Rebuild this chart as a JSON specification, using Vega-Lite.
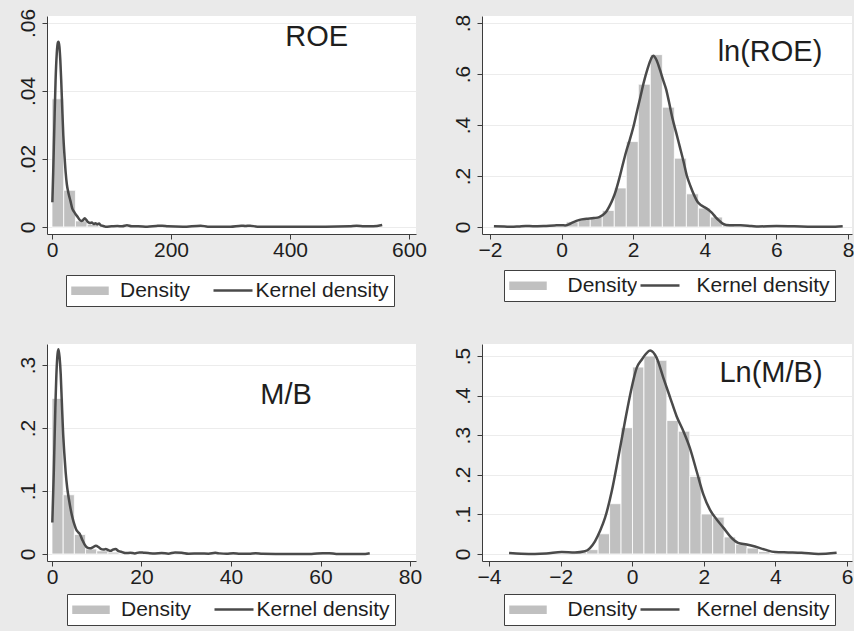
{
  "$schema": "https://vega.github.io/schema/vega-lite/v6.json",
  "background": "#eaeaea",
  "padding": {"left": 16, "top": 8, "right": 0, "bottom": 5},
  "config": {
    "view": {"fill": "white", "stroke": null},
    "font": "Liberation Sans",
    "axis": {"labelFont": "Liberation Sans", "labelFontSize": 21, "labelColor": "#1e1e1e", "domainColor": "#3c3c3c", "tickColor": "#3c3c3c", "tickSize": 5, "grid": false, "title": null, "labelFlush": false, "labelOverlap": false, "labelBound": false},
    "axisY": {"grid": true, "gridColor": "#ececec", "labelAngle": 270, "labelAlign": "center", "labelBaseline": "bottom", "labelPadding": 4},
    "axisX": {"labelPadding": 0},
    "legend": {"orient": "none", "direction": "horizontal", "title": null, "padding": 5, "labelFont": "Liberation Sans", "labelFontSize": 21, "labelColor": "#1e1e1e", "symbolSize": 324, "symbolOffset": 8.5, "labelOffset": 19.5, "columnPadding": 11.5}
  },
  "columns": 2,
  "spacing": {"row": 110, "column": 66},
  "bounds": "flush",
  "resolve": {"scale": {"fill": "independent", "stroke": "independent"}, "legend": {"fill": "independent", "stroke": "independent"}},
  "concat": [
    {
      "width": 369, "height": 218,
      "layer": [
        {"data": {"name": "roe_hist"}, "mark": {"type": "bar", "stroke": "white", "strokeWidth": 0.8},
         "encoding": {
           "x": {"field": "x0", "type": "quantitative", "scale": {"domain": [-8.4, 611.8], "nice": false, "zero": false}, "axis": {"values": [0, 200, 400, 600]}},
           "x2": {"field": "x1"},
           "y": {"field": "density", "type": "quantitative", "scale": {"domain": [-0.00206, 0.06206], "nice": false, "zero": false}, "axis": {"values": [0, 0.02, 0.04, 0.06], "labelExpr": "datum.value == 0 ? '0' : substring(format(datum.value, '~g'), 1)"}},
           "y2": {"datum": 0},
           "fill": {"datum": "Density", "type": "nominal", "scale": {"domain": ["Density", "Kernel density"], "range": ["#c0c0c0", "white"]},
             "legend": {"legendX": 19, "legendY": 259, "symbolType": "M-2.167,-0.556H2.167V0.556H-2.167Z", "fillColor": "white", "strokeColor": "#404040"}}
         }},
        {"data": {"name": "roe_kde"}, "mark": {"type": "line", "strokeWidth": 2.5, "interpolate": "monotone"},
         "encoding": {"x": {"field": "x", "type": "quantitative"}, "y": {"field": "density", "type": "quantitative"},
           "stroke": {"datum": "Kernel density", "type": "nominal", "scale": {"domain": ["Kernel density"], "range": ["#4a4a4a"]},
             "legend": {"legendX": 162, "legendY": 259, "symbolType": "M-2.167,0H2.167", "symbolStrokeWidth": 2.5, "labelExpr": "''"}}}},
        {"data": {"values": [{"label": "ROE"}]}, "mark": {"type": "text", "fontSize": 29, "align": "center", "baseline": "alphabetic", "color": "#1e1e1e"},
         "encoding": {"x": {"datum": 445, "type": "quantitative"}, "y": {"datum": 0.0532, "type": "quantitative"}, "text": {"field": "label"}}}
      ]
    },
    {
      "width": 370, "height": 218,
      "layer": [
        {"data": {"name": "lnroe_hist"}, "mark": {"type": "bar", "stroke": "white", "strokeWidth": 0.8},
         "encoding": {
           "x": {"field": "x0", "type": "quantitative", "scale": {"domain": [-2.223, 8.11], "nice": false, "zero": false}, "axis": {"values": [-2, 0, 2, 4, 6, 8]}},
           "x2": {"field": "x1"},
           "y": {"field": "density", "type": "quantitative", "scale": {"domain": [-0.0275, 0.8275], "nice": false, "zero": false}, "axis": {"values": [0, 0.2, 0.4, 0.6, 0.8], "labelExpr": "datum.value == 0 ? '0' : substring(format(datum.value, '~g'), 1)"}},
           "y2": {"datum": 0},
           "fill": {"datum": "Density", "type": "nominal", "scale": {"domain": ["Density", "Kernel density"], "range": ["#c0c0c0", "white"]},
             "legend": {"legendX": 22, "legendY": 254, "labelOffset": 29, "columnPadding": -18, "symbolType": "M-2.167,-0.556H2.167V0.556H-2.167Z", "fillColor": "white", "strokeColor": "#404040"}}
         }},
        {"data": {"name": "lnroe_kde"}, "mark": {"type": "line", "strokeWidth": 2.5, "interpolate": "monotone"},
         "encoding": {"x": {"field": "x", "type": "quantitative"}, "y": {"field": "density", "type": "quantitative"},
           "stroke": {"datum": "Kernel density", "type": "nominal", "scale": {"domain": ["Kernel density"], "range": ["#4a4a4a"]},
             "legend": {"legendX": 154, "legendY": 254, "symbolType": "M-2.167,0H2.167", "symbolStrokeWidth": 2.5, "labelExpr": "''"}}}},
        {"data": {"values": [{"label": "ln(ROE)"}]}, "mark": {"type": "text", "fontSize": 29, "align": "center", "baseline": "alphabetic", "color": "#1e1e1e"},
         "encoding": {"x": {"datum": 5.82, "type": "quantitative"}, "y": {"datum": 0.651, "type": "quantitative"}, "text": {"field": "label"}}}
      ]
    },
    {
      "width": 369, "height": 217,
      "layer": [
        {"data": {"name": "mb_hist"}, "mark": {"type": "bar", "stroke": "white", "strokeWidth": 0.8},
         "encoding": {
           "x": {"field": "x0", "type": "quantitative", "scale": {"domain": [-1.117, 81.34], "nice": false, "zero": false}, "axis": {"values": [0, 20, 40, 60, 80]}},
           "x2": {"field": "x1"},
           "y": {"field": "density", "type": "quantitative", "scale": {"domain": [-0.0111, 0.3333], "nice": false, "zero": false}, "axis": {"values": [0, 0.1, 0.2, 0.3], "labelExpr": "datum.value == 0 ? '0' : substring(format(datum.value, '~g'), 1)"}},
           "y2": {"datum": 0},
           "fill": {"datum": "Density", "type": "nominal", "scale": {"domain": ["Density", "Kernel density"], "range": ["#c0c0c0", "white"]},
             "legend": {"legendX": 20, "legendY": 250, "symbolType": "M-2.167,-0.556H2.167V0.556H-2.167Z", "fillColor": "white", "strokeColor": "#404040"}}
         }},
        {"data": {"name": "mb_kde"}, "mark": {"type": "line", "strokeWidth": 2.5, "interpolate": "monotone"},
         "encoding": {"x": {"field": "x", "type": "quantitative"}, "y": {"field": "density", "type": "quantitative"},
           "stroke": {"datum": "Kernel density", "type": "nominal", "scale": {"domain": ["Kernel density"], "range": ["#4a4a4a"]},
             "legend": {"legendX": 163, "legendY": 250, "symbolType": "M-2.167,0H2.167", "symbolStrokeWidth": 2.5, "labelExpr": "''"}}}},
        {"data": {"values": [{"label": "M/B"}]}, "mark": {"type": "text", "fontSize": 29, "align": "center", "baseline": "alphabetic", "color": "#1e1e1e"},
         "encoding": {"x": {"datum": 52.3, "type": "quantitative"}, "y": {"datum": 0.238, "type": "quantitative"}, "text": {"field": "label"}}}
      ]
    },
    {
      "width": 370, "height": 217,
      "layer": [
        {"data": {"name": "lnmb_hist"}, "mark": {"type": "bar", "stroke": "white", "strokeWidth": 0.8},
         "encoding": {
           "x": {"field": "x0", "type": "quantitative", "scale": {"domain": [-4.196, 6.14], "nice": false, "zero": false}, "axis": {"values": [-4, -2, 0, 2, 4, 6]}},
           "x2": {"field": "x1"},
           "y": {"field": "density", "type": "quantitative", "scale": {"domain": [-0.0177, 0.5303], "nice": false, "zero": false}, "axis": {"values": [0, 0.1, 0.2, 0.3, 0.4, 0.5], "labelExpr": "datum.value == 0 ? '0' : substring(format(datum.value, '~g'), 1)"}},
           "y2": {"datum": 0},
           "fill": {"datum": "Density", "type": "nominal", "scale": {"domain": ["Density", "Kernel density"], "range": ["#c0c0c0", "white"]},
             "legend": {"legendX": 22, "legendY": 250, "labelOffset": 29, "columnPadding": -18, "symbolType": "M-2.167,-0.556H2.167V0.556H-2.167Z", "fillColor": "white", "strokeColor": "#404040"}}
         }},
        {"data": {"name": "lnmb_kde"}, "mark": {"type": "line", "strokeWidth": 2.5, "interpolate": "monotone"},
         "encoding": {"x": {"field": "x", "type": "quantitative"}, "y": {"field": "density", "type": "quantitative"},
           "stroke": {"datum": "Kernel density", "type": "nominal", "scale": {"domain": ["Kernel density"], "range": ["#4a4a4a"]},
             "legend": {"legendX": 154, "legendY": 250, "symbolType": "M-2.167,0H2.167", "symbolStrokeWidth": 2.5, "labelExpr": "''"}}}},
        {"data": {"values": [{"label": "Ln(M/B)"}]}, "mark": {"type": "text", "fontSize": 29, "align": "center", "baseline": "alphabetic", "color": "#1e1e1e"},
         "encoding": {"x": {"datum": 3.877, "type": "quantitative"}, "y": {"datum": 0.434, "type": "quantitative"}, "text": {"field": "label"}}}
      ]
    }
  ],
  "datasets": {
    "roe_hist": [
      {"x0": 0, "x1": 19.7, "density": 0.0377},
      {"x0": 19.7, "x1": 39.4, "density": 0.0108},
      {"x0": 39.4, "x1": 59.1, "density": 0.0018},
      {"x0": 59.1, "x1": 78.8, "density": 0.0008},
      {"x0": 78.8, "x1": 98.5, "density": 0.0002},
      {"x0": 98.5, "x1": 118.2, "density": 0.0002}
    ],
    "roe_kde": [
      {"x": 0.6, "density": 0.0073}, {"x": 2, "density": 0.016}, {"x": 4, "density": 0.03}, {"x": 6, "density": 0.043},
      {"x": 8, "density": 0.051}, {"x": 10, "density": 0.0543}, {"x": 11.2, "density": 0.0545}, {"x": 12.5, "density": 0.053},
      {"x": 14, "density": 0.049}, {"x": 15.5, "density": 0.043}, {"x": 17, "density": 0.036}, {"x": 19, "density": 0.027},
      {"x": 21, "density": 0.021}, {"x": 23, "density": 0.016}, {"x": 25, "density": 0.0125}, {"x": 27, "density": 0.0105},
      {"x": 29, "density": 0.009}, {"x": 31, "density": 0.0077}, {"x": 34, "density": 0.0055}, {"x": 37, "density": 0.0045},
      {"x": 40, "density": 0.0037}, {"x": 43, "density": 0.003}, {"x": 46, "density": 0.0022}, {"x": 49, "density": 0.0018},
      {"x": 52, "density": 0.002}, {"x": 55, "density": 0.0026}, {"x": 58, "density": 0.002}, {"x": 61, "density": 0.0014},
      {"x": 64, "density": 0.0012}, {"x": 67, "density": 0.0013}, {"x": 70, "density": 0.0009}, {"x": 73, "density": 0.0011},
      {"x": 76, "density": 0.0008}, {"x": 79, "density": 0.001}, {"x": 82, "density": 0.0005}, {"x": 86, "density": 0.0003},
      {"x": 90, "density": 0.0001}, {"x": 100, "density": 0.0002}, {"x": 110, "density": 0.0003}, {"x": 118, "density": 0.0002},
      {"x": 126, "density": 0.0005}, {"x": 134, "density": 0.0002}, {"x": 145, "density": 0.0002}, {"x": 160, "density": 0.0001},
      {"x": 175, "density": 0.0003}, {"x": 185, "density": 0.0004}, {"x": 195, "density": 0.0002}, {"x": 220, "density": 0.0001},
      {"x": 250, "density": 0.0004}, {"x": 262, "density": 0.0001}, {"x": 300, "density": 0.0001}, {"x": 318, "density": 0.0004},
      {"x": 325, "density": 0.0003}, {"x": 333, "density": 0.0004}, {"x": 345, "density": 0.0001}, {"x": 380, "density": 0.0001},
      {"x": 420, "density": 0.0001}, {"x": 460, "density": 0.0001}, {"x": 500, "density": 0.0002}, {"x": 512, "density": 0.0004},
      {"x": 525, "density": 0.0002}, {"x": 540, "density": 0.0002}, {"x": 555, "density": 0.0006}
    ],
    "lnroe_hist": [
      {"x0": 0.129, "x1": 0.465, "density": 0.02},
      {"x0": 0.465, "x1": 0.8, "density": 0.03},
      {"x0": 0.8, "x1": 1.136, "density": 0.039},
      {"x0": 1.136, "x1": 1.472, "density": 0.065},
      {"x0": 1.472, "x1": 1.807, "density": 0.153},
      {"x0": 1.807, "x1": 2.143, "density": 0.335},
      {"x0": 2.143, "x1": 2.478, "density": 0.56},
      {"x0": 2.478, "x1": 2.814, "density": 0.676},
      {"x0": 2.814, "x1": 3.149, "density": 0.47},
      {"x0": 3.149, "x1": 3.485, "density": 0.27},
      {"x0": 3.485, "x1": 3.82, "density": 0.13},
      {"x0": 3.82, "x1": 4.156, "density": 0.074},
      {"x0": 4.156, "x1": 4.491, "density": 0.039},
      {"x0": 4.491, "x1": 4.827, "density": 0.008}
    ],
    "lnroe_kde": [
      {"x": -1.89, "density": 0.003}, {"x": -1.6, "density": 0.002}, {"x": -1.4, "density": 0.0005}, {"x": -1.2, "density": 0.002},
      {"x": -1.0, "density": 0.004}, {"x": -0.8, "density": 0.003}, {"x": -0.5, "density": 0.004}, {"x": -0.2, "density": 0.006},
      {"x": 0.0, "density": 0.007}, {"x": 0.1, "density": 0.006}, {"x": 0.2, "density": 0.01}, {"x": 0.3, "density": 0.017},
      {"x": 0.5, "density": 0.028}, {"x": 0.7, "density": 0.032}, {"x": 0.9, "density": 0.035}, {"x": 1.05, "density": 0.039},
      {"x": 1.15, "density": 0.047}, {"x": 1.24, "density": 0.059}, {"x": 1.33, "density": 0.08}, {"x": 1.43, "density": 0.11},
      {"x": 1.52, "density": 0.145}, {"x": 1.61, "density": 0.19}, {"x": 1.7, "density": 0.24}, {"x": 1.8, "density": 0.294},
      {"x": 1.9, "density": 0.34}, {"x": 2.0, "density": 0.39}, {"x": 2.1, "density": 0.45}, {"x": 2.2, "density": 0.51},
      {"x": 2.3, "density": 0.57}, {"x": 2.4, "density": 0.62}, {"x": 2.5, "density": 0.66}, {"x": 2.56, "density": 0.672},
      {"x": 2.65, "density": 0.655}, {"x": 2.75, "density": 0.615}, {"x": 2.85, "density": 0.57}, {"x": 2.92, "density": 0.54},
      {"x": 3.0, "density": 0.49}, {"x": 3.1, "density": 0.424}, {"x": 3.2, "density": 0.37}, {"x": 3.3, "density": 0.315},
      {"x": 3.4, "density": 0.26}, {"x": 3.5, "density": 0.2}, {"x": 3.6, "density": 0.16}, {"x": 3.7, "density": 0.125},
      {"x": 3.8, "density": 0.098}, {"x": 3.9, "density": 0.085}, {"x": 4.0, "density": 0.077}, {"x": 4.1, "density": 0.068},
      {"x": 4.2, "density": 0.055}, {"x": 4.3, "density": 0.039}, {"x": 4.4, "density": 0.025}, {"x": 4.5, "density": 0.013},
      {"x": 4.6, "density": 0.008}, {"x": 4.8, "density": 0.007}, {"x": 5.0, "density": 0.007}, {"x": 5.3, "density": 0.004},
      {"x": 5.5, "density": 0.002}, {"x": 6.0, "density": 0.004}, {"x": 6.5, "density": 0.003}, {"x": 7.0, "density": 0.001},
      {"x": 7.5, "density": 0.001}, {"x": 7.85, "density": 0.003}
    ],
    "mb_hist": [
      {"x0": 0, "x1": 2.5, "density": 0.247},
      {"x0": 2.5, "x1": 5, "density": 0.094},
      {"x0": 5, "x1": 7.5, "density": 0.031},
      {"x0": 7.5, "x1": 10, "density": 0.008},
      {"x0": 10, "x1": 12.5, "density": 0.005},
      {"x0": 12.5, "x1": 15, "density": 0.003},
      {"x0": 15, "x1": 17.5, "density": 0.001},
      {"x0": 17.5, "x1": 20, "density": 0.0008},
      {"x0": 20, "x1": 22.5, "density": 0.0006},
      {"x0": 25, "x1": 27.5, "density": 0.0005}
    ],
    "mb_kde": [
      {"x": 0.07, "density": 0.05}, {"x": 0.4, "density": 0.13}, {"x": 0.75, "density": 0.232}, {"x": 1.05, "density": 0.296},
      {"x": 1.25, "density": 0.318}, {"x": 1.45, "density": 0.325}, {"x": 1.7, "density": 0.312}, {"x": 1.95, "density": 0.285},
      {"x": 2.2, "density": 0.24}, {"x": 2.45, "density": 0.197}, {"x": 2.75, "density": 0.16}, {"x": 3.05, "density": 0.13},
      {"x": 3.4, "density": 0.105}, {"x": 3.8, "density": 0.086}, {"x": 4.2, "density": 0.07}, {"x": 4.6, "density": 0.057},
      {"x": 5.0, "density": 0.047}, {"x": 5.4, "density": 0.039}, {"x": 5.8, "density": 0.035}, {"x": 6.2, "density": 0.032},
      {"x": 6.8, "density": 0.022}, {"x": 7.3, "density": 0.015}, {"x": 7.9, "density": 0.01}, {"x": 8.5, "density": 0.009},
      {"x": 9.2, "density": 0.011}, {"x": 9.8, "density": 0.013}, {"x": 10.4, "density": 0.011}, {"x": 10.9, "density": 0.008},
      {"x": 11.5, "density": 0.007}, {"x": 12.0, "density": 0.008}, {"x": 12.6, "density": 0.006}, {"x": 13.1, "density": 0.005},
      {"x": 13.6, "density": 0.007}, {"x": 14.2, "density": 0.008}, {"x": 14.8, "density": 0.005}, {"x": 15.7, "density": 0.003},
      {"x": 16.5, "density": 0.0015}, {"x": 17.5, "density": 0.002}, {"x": 18.5, "density": 0.001}, {"x": 19.5, "density": 0.0025},
      {"x": 20.5, "density": 0.002}, {"x": 21.5, "density": 0.0015}, {"x": 23, "density": 0.001}, {"x": 24.5, "density": 0.0015},
      {"x": 26, "density": 0.0006}, {"x": 27.5, "density": 0.0025}, {"x": 29, "density": 0.002}, {"x": 30.5, "density": 0.0005},
      {"x": 33, "density": 0.0008}, {"x": 35, "density": 0.0005}, {"x": 36.5, "density": 0.0018}, {"x": 37.5, "density": 0.001},
      {"x": 39, "density": 0.0005}, {"x": 40.5, "density": 0.0012}, {"x": 42, "density": 0.0005}, {"x": 44, "density": 0.0004},
      {"x": 45.5, "density": 0.0012}, {"x": 47, "density": 0.0004}, {"x": 50, "density": 0.0002}, {"x": 54, "density": 0.0002},
      {"x": 58, "density": 0.0002}, {"x": 60.5, "density": 0.0012}, {"x": 62, "density": 0.0012}, {"x": 63.5, "density": 0.0002},
      {"x": 67, "density": 0.0001}, {"x": 70, "density": 0.0002}, {"x": 71, "density": 0.0012}
    ],
    "lnmb_hist": [
      {"x0": -1.592, "x1": -1.272, "density": 0.004},
      {"x0": -1.272, "x1": -0.952, "density": 0.011},
      {"x0": -0.952, "x1": -0.632, "density": 0.051},
      {"x0": -0.632, "x1": -0.312, "density": 0.127},
      {"x0": -0.312, "x1": 0.008, "density": 0.319},
      {"x0": 0.008, "x1": 0.328, "density": 0.472},
      {"x0": 0.328, "x1": 0.648, "density": 0.5},
      {"x0": 0.648, "x1": 0.968, "density": 0.489},
      {"x0": 0.968, "x1": 1.288, "density": 0.337},
      {"x0": 1.288, "x1": 1.608, "density": 0.31},
      {"x0": 1.608, "x1": 1.928, "density": 0.196},
      {"x0": 1.928, "x1": 2.248, "density": 0.101},
      {"x0": 2.248, "x1": 2.568, "density": 0.093},
      {"x0": 2.568, "x1": 2.888, "density": 0.043},
      {"x0": 2.888, "x1": 3.208, "density": 0.025},
      {"x0": 3.208, "x1": 3.528, "density": 0.015},
      {"x0": 3.528, "x1": 3.848, "density": 0.006}
    ],
    "lnmb_kde": [
      {"x": -3.44, "density": 0.0025}, {"x": -3.1, "density": 0.0008}, {"x": -2.72, "density": 0.0}, {"x": -2.4, "density": 0.001},
      {"x": -1.97, "density": 0.005}, {"x": -1.6, "density": 0.004}, {"x": -1.32, "density": 0.007}, {"x": -1.18, "density": 0.015},
      {"x": -1.04, "density": 0.032}, {"x": -0.9, "density": 0.058}, {"x": -0.76, "density": 0.091}, {"x": -0.57, "density": 0.159},
      {"x": -0.39, "density": 0.243}, {"x": -0.2, "density": 0.336}, {"x": -0.015, "density": 0.42}, {"x": 0.125, "density": 0.47},
      {"x": 0.26, "density": 0.49}, {"x": 0.38, "density": 0.505}, {"x": 0.5, "density": 0.514}, {"x": 0.68, "density": 0.496},
      {"x": 0.87, "density": 0.445}, {"x": 1.06, "density": 0.395}, {"x": 1.24, "density": 0.348}, {"x": 1.43, "density": 0.31},
      {"x": 1.61, "density": 0.268}, {"x": 1.8, "density": 0.209}, {"x": 1.99, "density": 0.15}, {"x": 2.17, "density": 0.112},
      {"x": 2.36, "density": 0.087}, {"x": 2.55, "density": 0.066}, {"x": 2.73, "density": 0.045}, {"x": 2.96, "density": 0.028},
      {"x": 3.2, "density": 0.024}, {"x": 3.43, "density": 0.019}, {"x": 3.71, "density": 0.011}, {"x": 3.99, "density": 0.005},
      {"x": 4.36, "density": 0.004}, {"x": 4.73, "density": 0.003}, {"x": 5.2, "density": 0.0}, {"x": 5.71, "density": 0.003}
    ]
  }
}
